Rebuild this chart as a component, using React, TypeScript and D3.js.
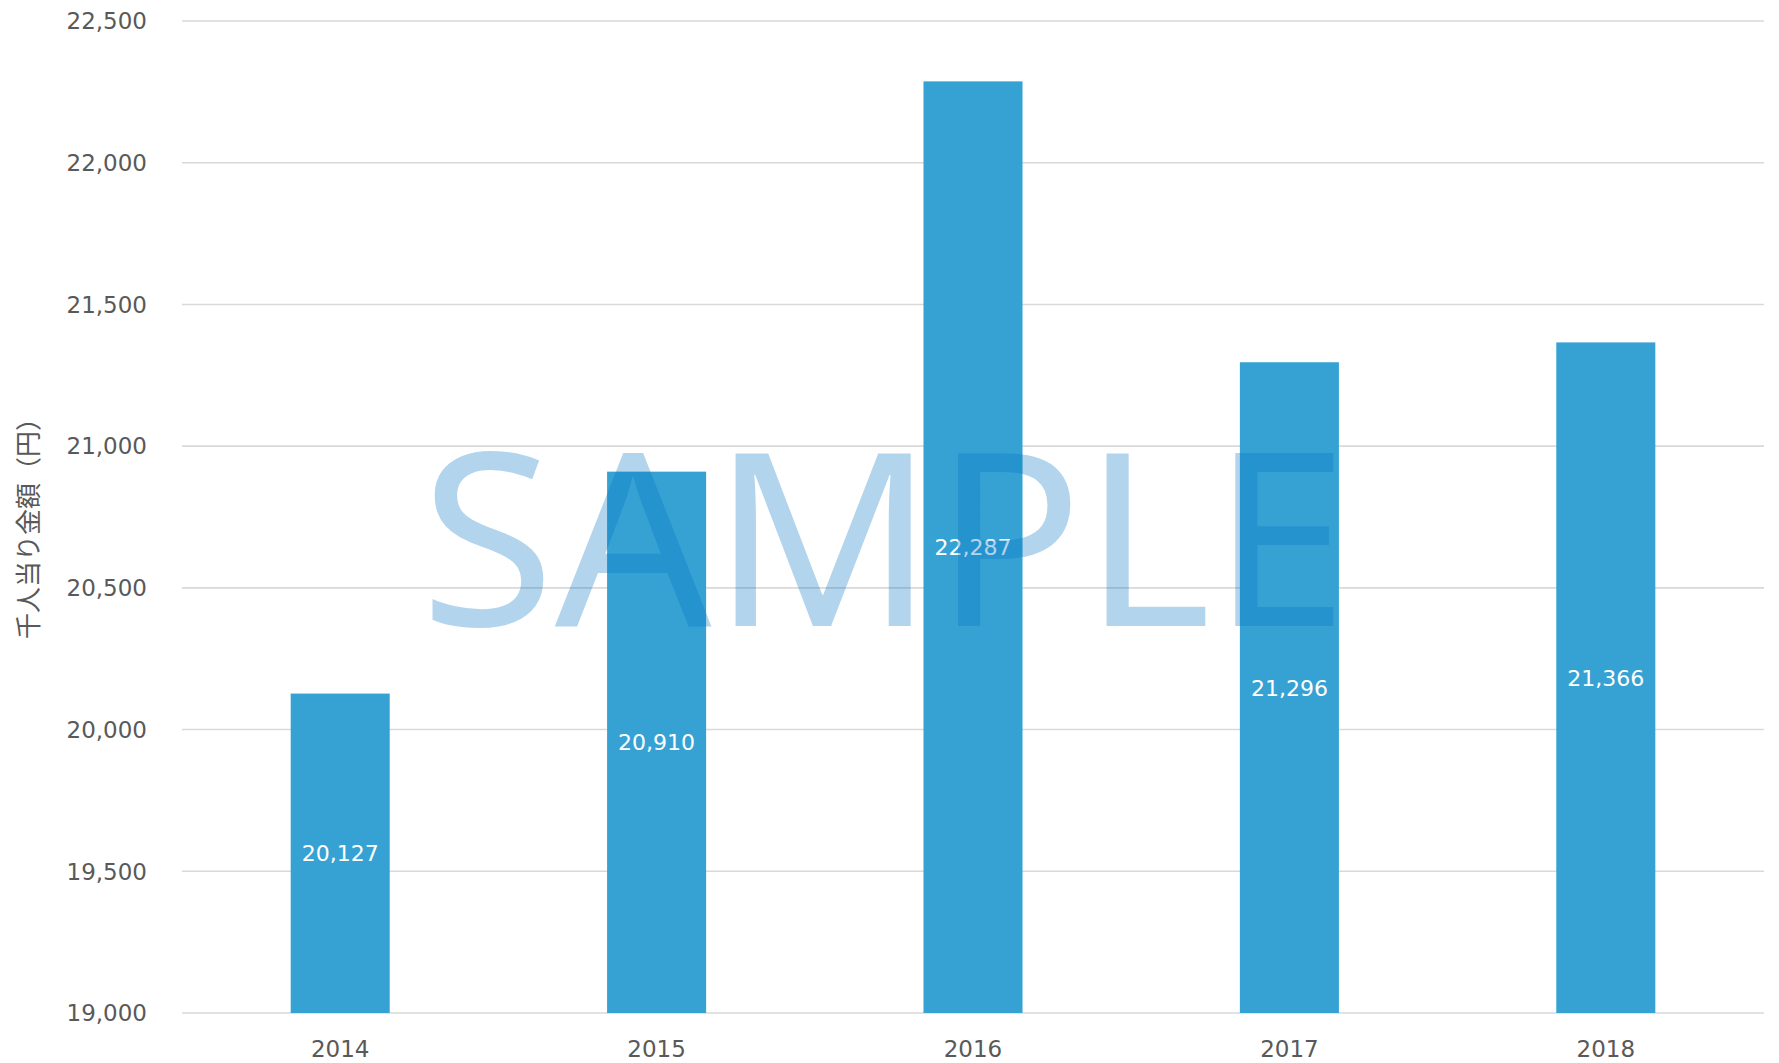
import React from "react";
import * as d3 from "d3";

const years = ["2014", "2015", "2016", "2017", "2018"];
const values = [20127, 20910, 22287, 21296, 21366];
const yTicks = [19000, 19500, 20000, 20500, 21000, 21500, 22000, 22500];
const yTitle = "千人当り金額（円）";
const watermark = "SAMPLE";

const W = 1779;
const H = 1063;
const M = { left: 182, right: 15, top: 21, bottom: 50 };

export default function App() {
  const x = d3
    .scaleBand<string>()
    .domain(years)
    .range([M.left, W - M.right])
    .paddingInner(0.687)
    .paddingOuter(0.3435);
  const y = d3.scaleLinear().domain([19000, 22500]).range([H - M.bottom, M.top]);
  const fmt = d3.format(",");
  const font = "'DejaVu Sans', Verdana, sans-serif";

  return (
    <svg
      width={W}
      height={H}
      style={{ position: "fixed", top: 0, left: 0, background: "#fff" }}
    >
      <rect x={0} y={0} width={W} height={H} fill="#fff" />
      {yTicks.map((t) => (
        <g key={t}>
          <line
            x1={M.left}
            x2={W - M.right}
            y1={y(t)}
            y2={y(t)}
            stroke="#d9d9d9"
            strokeWidth={1.6}
          />
          <text
            x={147}
            y={y(t)}
            dy="0.36em"
            textAnchor="end"
            fontFamily={font}
            fontSize={23}
            fill="#595959"
          >
            {fmt(t)}
          </text>
        </g>
      ))}
      {years.map((yr, i) => (
        <g key={yr}>
          <rect
            x={x(yr)}
            y={y(values[i])}
            width={x.bandwidth()}
            height={y(19000) - y(values[i])}
            fill="#36a2d3"
          />
          <text
            x={(x(yr) as number) + x.bandwidth() / 2}
            y={(y(values[i]) + y(19000)) / 2}
            dy="0.36em"
            textAnchor="middle"
            fontFamily={font}
            fontSize={22}
            fill="#ffffff"
          >
            {fmt(values[i])}
          </text>
          <text
            x={(x(yr) as number) + x.bandwidth() / 2}
            y={1057}
            textAnchor="middle"
            fontFamily={font}
            fontSize={23}
            fill="#595959"
          >
            {yr}
          </text>
        </g>
      ))}
      <text
        transform={`translate(38, 522) rotate(-90)`}
        textAnchor="middle"
        fontFamily="'Noto Sans CJK JP', sans-serif"
        fontSize={26}
        fill="#595959"
      >
        {yTitle}
      </text>
      <text
        x={420}
        y={626}
        textLength={928}
        lengthAdjust="spacingAndGlyphs"
        fontFamily="'Noto Sans', sans-serif"
        fontSize={242}
        fill="rgb(0,112,192)"
        fillOpacity={0.3}
      >
        {watermark}
      </text>
    </svg>
  );
}
